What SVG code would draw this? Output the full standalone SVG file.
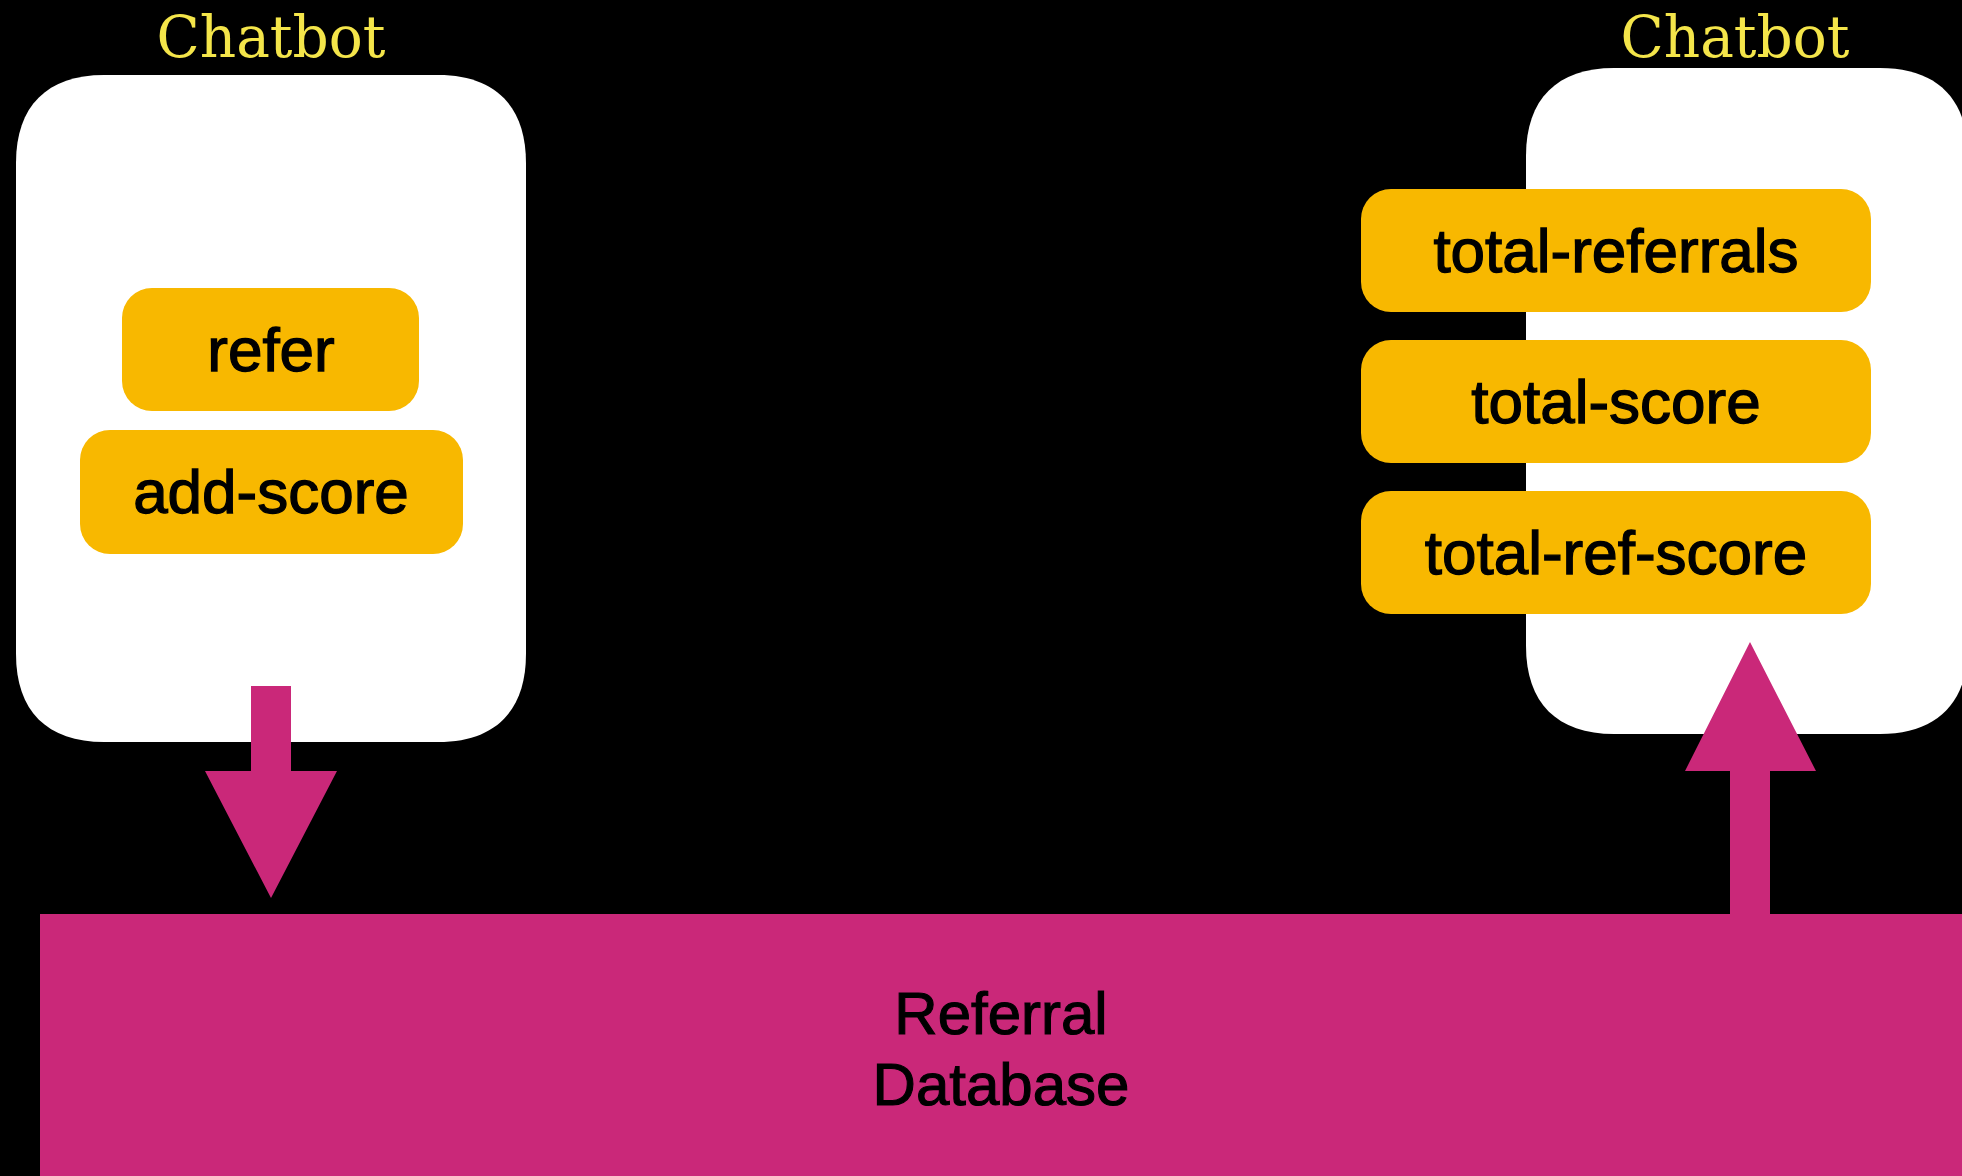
<svg xmlns="http://www.w3.org/2000/svg" width="1962" height="1176" viewBox="0 0 1962 1176">
  <style>
    .title { font-family: "DejaVu Serif", "Liberation Serif", serif; font-size: 58px; fill: #F4E54A; text-anchor: middle; }
    .card { fill: #FFFFFF; }
    .fn { fill: #F8B800; }
    .lbl { font-family: "Liberation Sans", Arial, sans-serif; font-size: 62px; fill: #000000; stroke: #000000; stroke-width: 1.3; text-anchor: middle; }
    .db { fill: #CA2879; }
    .dblbl { font-family: "Liberation Sans", Arial, sans-serif; font-size: 60px; fill: #000000; stroke: #000000; stroke-width: 1.1; text-anchor: middle; }
    .arrow { fill: #CA2879; }
  </style>
  <rect x="0" y="0" width="1962" height="1176" fill="#000000"/>

  <g id="chatbot-left">
    <text class="title" x="271" y="57" textLength="229" lengthAdjust="spacingAndGlyphs">Chatbot</text>
    <path class="card" d="M 104,75 L 438,75 C 495,75 526,106 526,163 L 526,654 C 526,711 495,742 438,742 L 104,742 C 47,742 16,711 16,654 L 16,163 C 16,106 47,75 104,75 Z"/>
  </g>
  <g id="refer">
    <rect class="fn" x="122" y="288" width="297" height="123" rx="30" ry="30"/>
    <text class="lbl" x="271" y="371">refer</text>
  </g>
  <g id="add-score">
    <rect class="fn" x="80" y="430" width="383" height="124" rx="30" ry="30"/>
    <text class="lbl" x="271" y="513">add-score</text>
  </g>

  <g id="chatbot-right">
    <text class="title" x="1735" y="57" textLength="229" lengthAdjust="spacingAndGlyphs">Chatbot</text>
    <path class="card" d="M 1614,68 L 1880,68 C 1937,68 1968,99 1968,156 L 1968,646 C 1968,703 1937,734 1880,734 L 1614,734 C 1557,734 1526,703 1526,646 L 1526,156 C 1526,99 1557,68 1614,68 Z"/>
  </g>
  <g id="total-referrals">
    <rect class="fn" x="1361" y="189" width="510" height="123" rx="30" ry="30"/>
    <text class="lbl" x="1616" y="272">total-referrals</text>
  </g>
  <g id="total-score">
    <rect class="fn" x="1361" y="340" width="510" height="123" rx="30" ry="30"/>
    <text class="lbl" x="1616" y="423">total-score</text>
  </g>
  <g id="total-ref-score">
    <rect class="fn" x="1361" y="491" width="510" height="123" rx="30" ry="30"/>
    <text class="lbl" x="1616" y="574">total-ref-score</text>
  </g>

  <g id="referral-database">
    <rect class="db" x="40" y="914" width="1930" height="270"/>
    <text class="dblbl" x="1001" y="1034">Referral</text>
    <text class="dblbl" x="1001" y="1105">Database</text>
  </g>

  <g id="connectors">
    <polygon class="arrow" points="251,686 291,686 291,771 337,771 271,898 205,771 251,771"/>
    <polygon class="arrow" points="1730,914 1770,914 1770,771 1816,771 1750,642 1685,771 1730,771"/>
  </g>
</svg>
